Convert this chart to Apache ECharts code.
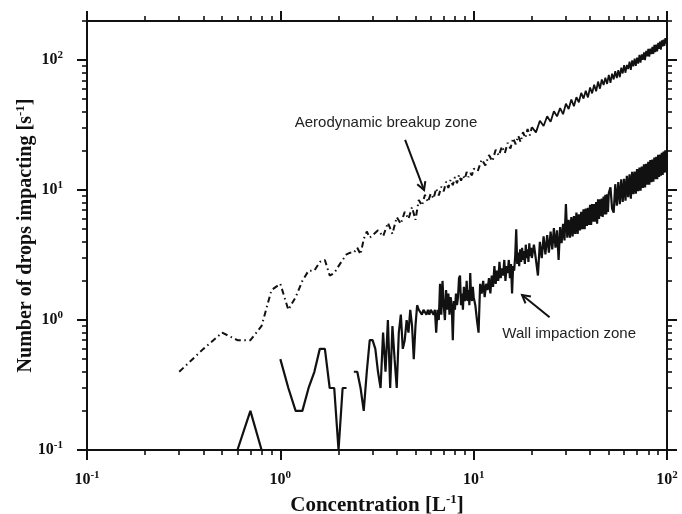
<!DOCTYPE html>
<html>
<head>
<meta charset="utf-8">
<script src="https://cdn.jsdelivr.net/npm/echarts@6/dist/echarts.min.js"></script>
<style>
  html, body { margin: 0; padding: 0; background: #fff; }
  #chart { width: 682px; height: 514px; }
</style>
</head>
<body>
<div id="chart"></div>
<script>
// Axis ticks (log decades and the 2..9 steps inside them)
const xMajorTicks = [0.1, 1, 10, 100];
const xMinorTicks = [0.2, 0.3, 0.4, 0.5, 0.6, 0.7, 0.8, 0.9, 2, 3, 4, 5, 6, 7, 8, 9, 20, 30, 40, 50, 60, 70, 80, 90];
const yMajorTicks = [0.1, 1, 10, 100];
const yMinorTicks = [0.2, 0.3, 0.4, 0.5, 0.6, 0.7, 0.8, 0.9, 2, 3, 4, 5, 6, 7, 8, 9, 20, 30, 40, 50, 60, 70, 80, 90, 200];
const tickExponents = ['-1', '0', '1', '2'];

// Drops impacting per second vs. concentration: aerodynamic breakup zone
const aerodynamicBreakup = [
  [0.3,0.4],[0.4,0.6],[0.5,0.8],[0.6,0.7],[0.7,0.7],[0.8,0.9],[0.9,1.7],[1.0,1.9],[1.1,1.2],[1.2,1.5],
  [1.3,2.0],[1.4,2.4],[1.5,2.4],[1.6,2.8],[1.7,2.9],[1.8,2.2],[1.9,2.3],[2.0,2.6],[2.1,2.9],[2.2,3.2],
  [2.3,3.3],[2.4,3.3],[2.5,3.6],[2.6,3.2],[2.7,4.2],[2.8,4.8],[2.9,4.3],[3.0,4.5],
  [3.2,4.9],[3.4,4.4],[3.6,5.6],[3.8,4.6],[4.0,6.2],[4.2,5.5],[4.4,6.8],[4.6,6.0],[4.8,7.4],[5.0,5.9],
  [5.2,8.4],[5.4,7.6],[5.6,9.2],[5.8,8.1],[6.0,9.4],[6.2,8.6],[6.4,10.3],[6.6,9.1],[6.8,10.6],[7.0,9.8],
  [7.2,11.6],[7.4,10.4],[7.6,12.0],[7.8,10.9],[8.0,12.6],[8.2,11.3],[8.4,13.1],[8.6,11.8],[8.8,12.9],[9.0,12.2],
  [9.2,13.8],[9.4,12.6],[9.6,13.5],[9.8,13.0],[10.0,14.6],
  [10.5,14.0],[11,17.2],[11.5,15.5],[12,18.6],[12.5,16.7],[13,20.4],[13.5,18.4],[14,21.7],[14.5,19.3],[15,23.1],
  [15.5,20.9],[16,25.1],[16.5,22.5],[17,26.2],[17.5,23.4],[18,27.9],[18.5,25.2],[19,29.5],[19.5,26.3],[20,30.5],
  [21,27.8],[22,34.2],[23,31.1],[24,37.0],[25,33.5],[26,40.4],[27,36.9],[28,42.7],[29,38.4],[30,46.2],
  [31,42.0],[32,49.8],[33,44.2],[34,51.9],[35,47.4],[36,56.0],[37,50.6],[38,58.0],[39,51.7],[40,61.6],
  [41,55.5],[42,64.7],[43,57.6],[44,68.4],[45,60.3],[46,70.9],[47,64.3],[48,73.3],[49,65.6],[50,77.0],
  [51,66.9],[52,78.5],[53,71.0],[54,82.2],[55,72.9],[56,83.7],[57,73.9],[58,87.5],[59,79.0],[60,91.4],
  [61,80.0],[62,91.8],[63,85.3],[64,97.5],[65,84.3],[66,99.6],[67,89.7],[68,102.6],[69,90.5],[70,104.6],
  [71,94.1],[72,109.6],[73,95.7],[74,110.6],[75,100.5],[76,114.7],[77,99.9],[78,117.7],[79,106.9],[80,121.8],
  [81,106.2],[82,122.6],[83,111.2],[84,126.7],[85,111.5],[86,131.0],[87,115.3],[88,131.5],[89,116.7],[90,135.8],
  [91,121.9],[92,138.8],[93,120.6],[94,141.8],[95,127.3],[96,143.5],[97,128.6],[98,147.9],[99,134.0],[100,141.0]
];

// Drops impacting per second vs. concentration: wall impaction zone (null = no impacts)
const wallImpaction = [
  [0.5,null],[0.6,0.1],[0.7,0.2],[0.8,0.1],[0.9,null],
  [1.0,0.5],[1.1,0.3],[1.2,0.2],[1.3,0.2],[1.4,0.3],[1.5,0.4],[1.6,0.6],[1.7,0.6],[1.8,0.3],[1.9,0.3],
  [2.0,0.1],[2.1,0.3],[2.2,0.3],[2.3,null],
  [2.4,0.4],[2.5,0.4],[2.6,0.3],[2.7,0.2],[2.8,0.4],[2.9,0.7],[3.0,0.7],[3.1,0.6],[3.2,0.4],[3.3,0.3],
  [3.4,0.8],[3.5,0.4],[3.6,1.0],[3.7,0.3],[3.8,0.9],[3.9,0.5],[4.0,0.3],[4.1,0.8],[4.2,1.1],[4.3,0.6],
  [4.4,0.7],[4.5,1.0],[4.6,0.8],[4.7,1.2],[4.8,0.9],[4.9,0.5],[5.0,0.9],[5.1,1.3],[5.2,1.2],[5.3,1.2],
  [5.4,1.1],[5.5,1.2],[5.6,1.2],[5.7,1.1],[5.8,1.2],[5.9,1.1],[6.0,1.2],[6.1,1.2],[6.2,1.1],[6.3,1.2],
  [6.4,0.8],[6.5,1.2],[6.6,1.0],[6.7,1.9],[6.8,1.1],[6.9,2.0],[7.0,1.3],[7.1,1.0],[7.2,1.7],[7.3,1.2],
  [7.4,1.6],[7.5,1.1],[7.6,1.5],[7.7,1.3],[7.8,0.7],[7.9,1.4],[8.0,1.2],[8.1,1.6],[8.2,1.3],[8.3,1.5],
  [8.4,2.1],[8.5,2.2],[8.6,1.3],[8.7,1.6],[8.8,1.2],[8.9,1.8],[9.0,1.4],[9.1,1.5],[9.2,2.0],[9.3,1.4],
  [9.4,1.7],[9.5,1.3],[9.6,2.3],[9.7,1.5],[9.8,1.4],[9.9,1.8],[10.0,1.5],
  [10.2,1.3],[10.4,1.0],[10.6,0.8],[10.8,1.9],[11.0,1.6],[11.2,2.0],[11.4,1.5],[11.6,1.9],[11.8,1.7],[12.0,2.1],
  [12.2,1.6],[12.4,2.2],[12.6,1.8],[12.8,2.6],[13.0,1.9],[13.2,2.4],[13.4,2.0],[13.6,2.8],[13.8,2.1],[14.0,2.5],
  [14.2,2.2],[14.4,2.9],[14.6,2.0],[14.8,2.6],[15.0,2.3],[15.2,2.9],[15.4,2.1],[15.6,2.7],[15.8,1.6],[16.0,2.6],
  [16.2,2.4],[16.4,3.1],[16.6,5.0],[16.8,2.7],[17.0,3.3],[17.2,2.6],[17.4,3.5],[17.6,2.8],[17.8,3.6],[18.0,2.9],
  [18.2,3.4],[18.4,2.7],[18.6,3.8],[18.8,3.0],[19.0,3.5],[19.2,2.8],[19.4,3.9],[19.6,3.1],[19.8,3.6],[20.0,3.0],
  [20.5,3.8],[21.0,2.9],[21.5,2.2],[22.0,4.0],[22.5,3.0],[23.0,4.4],[23.5,3.2],[24.0,4.5],[24.5,3.3],[25.0,4.8],
  [25.5,3.5],[26.0,5.1],[26.5,3.6],[27.0,4.9],[27.5,2.9],[28.0,5.2],[28.5,3.9],[29.0,5.5],[29.5,4.1],[30.0,7.8],
  [30.5,4.3],[31.0,5.9],[31.5,4.3],[32.0,6.2],[32.5,4.4],[33.0,6.3],[33.5,4.6],[34.0,6.7],[34.5,4.6],[35.0,6.5],
  [35.5,4.9],[36.0,6.8],[36.5,5.0],[37.0,7.1],[37.5,5.0],[38.0,7.2],[38.5,5.3],[39.0,7.3],[39.5,5.4],[40.0,7.7],
  [40.5,5.4],[41.0,7.8],[41.5,5.7],[42.0,7.8],[42.5,5.7],[43.0,8.1],[43.5,5.5],[44.0,8.5],[44.5,6.0],[45.0,8.5],
  [45.5,6.3],[46.0,8.6],[46.5,6.2],[47.0,8.9],[47.5,6.5],[48.0,9.2],[48.5,6.5],[49.0,9.3],[49.5,6.8],[50.0,9.5],
  [51,10.5],[52,7.2],[53,6.7],[54,11.1],[55,7.6],[56,11.5],[57,7.8],[58,12.1],[59,8.1],[60,12.2],
  [61,8.3],[62,12.9],[63,8.8],[64,13.2],[65,8.6],[66,13.8],[67,9.3],[68,13.9],[69,9.4],[70,14.5],
  [71,9.8],[72,14.9],[73,9.9],[74,15.2],[75,10.4],[76,15.8],[77,10.5],[78,15.9],[79,11.0],[80,16.5],
  [81,11.0],[82,17.0],[83,11.5],[84,17.2],[85,11.6],[86,17.8],[87,12.1],[88,18.0],[89,12.1],[90,18.7],
  [91,12.6],[92,18.8],[93,12.9],[94,19.4],[95,13.1],[96,19.8],[97,13.6],[98,20.2],[99,13.7],[100,18.5]
];

// Annotation anchors, in data coordinates
const aeroNote = { text: 'Aerodynamic breakup zone', at: [3.52, 33.1], arrow: [[4.42, 24.3], [5.54, 10.0]] };
const wallNote = { text: 'Wall impaction zone', at: [31.2, 0.785], arrow: [[24.7, 1.05], [17.8, 1.56]] };

const INK = '#111';
const SERIF = 'Liberation Serif';
// Above this concentration the breakup record is so dense that its dash-dot
// strokes merge into a solid band, so that stretch is stroked solid.
const DENSE_FROM = 20;

function powerLabel(majors) {
  return function (v) {
    const i = majors.findIndex(t => Math.abs(t - v) / t < 1e-6);
    return i < 0 ? '' : '{b|10}{s|' + tickExponents[i] + '}';
  };
}

const labelRich = {
  b: { fontFamily: SERIF, fontWeight: 'bold', fontSize: 16, color: INK, lineHeight: 20 },
  s: { fontFamily: SERIF, fontWeight: 'bold', fontSize: 11, color: INK, lineHeight: 12, verticalAlign: 'top' }
};

function makeAxis(dim, position, kind, extra) {
  const isX = dim === 'x';
  const major = kind === 'major';
  const ticks = isX ? (major ? xMajorTicks : xMinorTicks) : (major ? yMajorTicks : yMinorTicks);
  return Object.assign({
    type: 'log',
    logBase: 10,
    min: 0.1,
    max: isX ? 100 : 200,
    position: position,
    axisLine: { show: major, onZero: false, lineStyle: { color: INK, width: 2 } },
    axisTick: { show: true, inside: false, length: major ? 10 : 5, customValues: ticks,
                lineStyle: { color: INK, width: major ? 2 : 1.6 } },
    axisLabel: { show: false },
    minorTick: { show: false },
    splitLine: { show: false },
    minorSplitLine: { show: false },
    silent: true
  }, extra || {});
}

const chart = echarts.init(document.getElementById('chart'), null, { renderer: 'canvas' });

const lineBase = {
  type: 'line',
  xAxisIndex: 0,
  yAxisIndex: 0,
  showSymbol: false,
  symbol: 'none',
  connectNulls: false,
  z: 3
};

const option = {
  backgroundColor: '#fff',
  animation: false,
  grid: { left: 87, right: 15, top: 21, bottom: 64, containLabel: false, outerBoundsMode: 'none' },
  xAxis: [
    makeAxis('x', 'bottom', 'major', {
      name: 'Concentration [L{sup|-1}]',
      nameLocation: 'middle',
      nameGap: 34,
      nameTextStyle: {
        fontFamily: SERIF, fontWeight: 'bold', fontSize: 21, color: INK, lineHeight: 25,
        rich: { sup: { fontFamily: SERIF, fontWeight: 'bold', fontSize: 13, color: INK, lineHeight: 13, verticalAlign: 'top' } }
      },
      axisLabel: { show: true, customValues: xMajorTicks, margin: 20, formatter: powerLabel(xMajorTicks), rich: labelRich }
    }),
    makeAxis('x', 'bottom', 'minor'),
    makeAxis('x', 'top', 'major'),
    makeAxis('x', 'top', 'minor')
  ],
  yAxis: [
    makeAxis('y', 'left', 'major', {
      name: 'Number of drops impacting [s{sup|-1}]',
      nameLocation: 'middle',
      nameGap: 50,
      nameMoveOverlap: false,
      nameTextStyle: {
        fontFamily: SERIF, fontWeight: 'bold', fontSize: 20, color: INK, lineHeight: 23,
        rich: { sup: { fontFamily: SERIF, fontWeight: 'bold', fontSize: 13, color: INK, lineHeight: 13, verticalAlign: 'top' } }
      },
      axisLabel: { show: true, customValues: yMajorTicks, margin: 24, formatter: powerLabel(yMajorTicks), rich: labelRich }
    }),
    makeAxis('y', 'left', 'minor'),
    makeAxis('y', 'right', 'major'),
    makeAxis('y', 'right', 'minor')
  ],
  series: [
    Object.assign({}, lineBase, {
      name: 'Aerodynamic breakup zone',
      data: aerodynamicBreakup.filter(p => p[0] <= DENSE_FROM),
      lineStyle: { color: INK, width: 2, type: [6, 3.5, 1.5, 3.5] }
    }),
    Object.assign({}, lineBase, {
      name: 'Aerodynamic breakup zone',
      data: aerodynamicBreakup.filter(p => p[0] >= DENSE_FROM),
      lineStyle: { color: INK, width: 1.8 }
    }),
    Object.assign({}, lineBase, {
      name: 'Wall impaction zone',
      data: wallImpaction,
      lineStyle: { color: INK, width: 2.2 }
    })
  ]
};

chart.setOption(option);

// Text notes and their arrows, placed through the axes' own scales
function toPx(p) {
  return chart.convertToPixel({ xAxisIndex: 0, yAxisIndex: 0 }, p);
}

function arrowGraphics(from, to) {
  const a = toPx(from), b = toPx(to);
  const ang = Math.atan2(b[1] - a[1], b[0] - a[0]);
  const len = 9, spread = 0.5;
  const left = [b[0] - len * Math.cos(ang - spread), b[1] - len * Math.sin(ang - spread)];
  const right = [b[0] - len * Math.cos(ang + spread), b[1] - len * Math.sin(ang + spread)];
  return [
    { type: 'line', silent: true, z: 10, shape: { x1: a[0], y1: a[1], x2: b[0], y2: b[1] },
      style: { stroke: INK, lineWidth: 2 } },
    { type: 'polyline', silent: true, z: 10, shape: { points: [left, b, right] },
      style: { stroke: INK, lineWidth: 2, fill: null } }
  ];
}

function noteText(note) {
  const p = toPx(note.at);
  return { type: 'text', silent: true, z: 10, x: p[0], y: p[1],
    style: { text: note.text, fill: '#222', fontFamily: 'Liberation Sans', fontSize: 15,
             align: 'center', verticalAlign: 'middle' } };
}

chart.setOption({
  graphic: [noteText(aeroNote), noteText(wallNote)]
    .concat(arrowGraphics(aeroNote.arrow[0], aeroNote.arrow[1]))
    .concat(arrowGraphics(wallNote.arrow[0], wallNote.arrow[1]))
});
</script>
</body>
</html>
